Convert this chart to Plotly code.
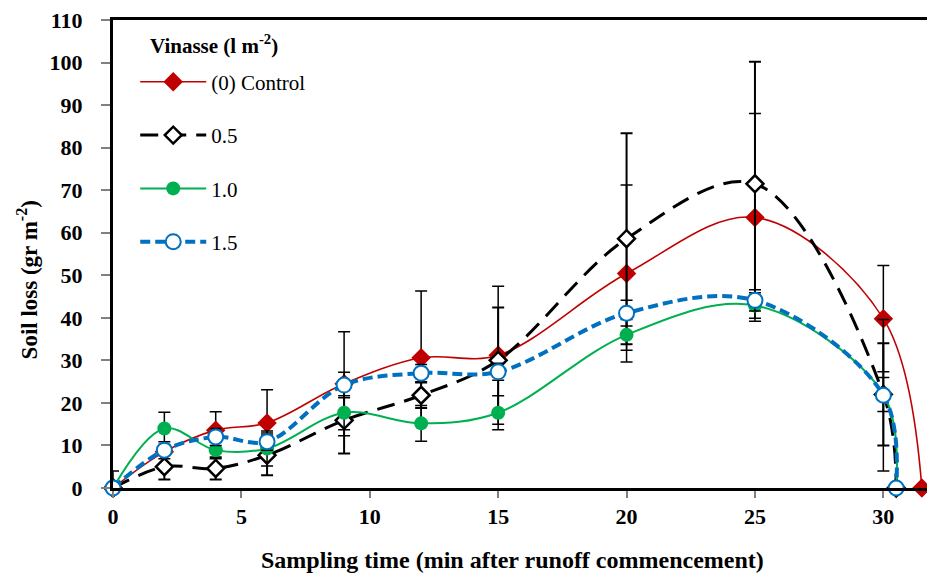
import plotly.graph_objects as go

# ---- data ----
t_main = [0, 2, 4, 6, 9, 12, 15, 20, 25, 30, 30.5]
t_ctrl = [0, 2, 4, 6, 9, 12, 15, 20, 25, 30, 31.5]

control = [0, 8.5, 13.6, 15.3, 24.5, 30.6, 31.2, 50.4, 63.6, 39.8, 0]
control_err = [4, 0, 4.3, 7.8, 12.2, 15.7, 16.2, 20.8, 24.4, 12.5, 0]
control_err_minus = [0, 0, 4.3, 7.8, 12.2, 15.7, 16.2, 20.8, 24.4, 12.5, 0]

v05 = [0, 5.0, 4.6, 7.7, 15.9, 21.8, 30.0, 58.6, 71.5, 22.0, 0]
v05_err = [0, 3.0, 2.6, 4.7, 7.8, 3.0, 12.4, 24.8, 28.7, 12.0, 0]

v10 = [0, 14.0, 8.9, 9.3, 17.7, 15.2, 17.7, 36.0, 42.9, 22.0, 0]
v10_err = [0, 3.8, 2.0, 4.1, 4.0, 4.2, 4.0, 3.6, 3.0, 4.0, 0]

v15 = [0, 8.9, 12.0, 10.9, 24.2, 27.0, 27.3, 41.1, 44.1, 21.8, 0]
v15_err = [0, 2.0, 2.0, 2.0, 3.0, 2.0, 2.0, 3.0, 2.5, 17.8, 0]

names = ["(0) Control", "0.5", "1.0", "1.5"]
legend_title = "<b>Vinasse (l m<sup>-2</sup>)</b>"
y_ticks = list(range(0, 111, 10))
x_ticks = [0, 5, 10, 15, 20, 25, 30]

RED, BLACK, GREEN, BLUE = "#C00000", "#000000", "#00B050", "#0070C0"
SERIF = "Liberation Serif, Times New Roman, serif"

fig = go.Figure()


def err(arr, minus=None, thick=1.5):
    d = dict(type="data", array=arr, visible=True, color="black",
             thickness=thick, width=6)
    if minus is not None:
        d["symmetric"] = False
        d["arrayminus"] = minus
    return d


fig.add_trace(go.Scatter(
    x=t_ctrl, y=control, name=names[0], legendgroup="a",
    mode="lines+markers", cliponaxis=False,
    line=dict(color=RED, width=1.6, shape="spline", smoothing=1.0),
    marker=dict(symbol="diamond", size=15, color=RED),
    error_y=err(control_err, control_err_minus),
))
fig.add_trace(go.Scatter(
    x=t_main, y=v05, name=names[1], legendgroup="b",
    mode="lines+markers", cliponaxis=False,
    line=dict(color=BLACK, width=3, dash="18px,10px", shape="spline", smoothing=1.0),
    marker=dict(symbol="diamond", size=13, color="white",
                line=dict(color=BLACK, width=2.5)),
    error_y=err(v05_err, thick=2),
))
fig.add_trace(go.Scatter(
    x=t_main, y=v10, name=names[2], legendgroup="c",
    mode="lines+markers", cliponaxis=False,
    line=dict(color=GREEN, width=2, shape="spline", smoothing=1.0),
    marker=dict(symbol="circle", size=14, color=GREEN),
    error_y=err(v10_err),
))
fig.add_trace(go.Scatter(
    x=t_main, y=v15, name=names[3], legendgroup="d",
    mode="lines+markers", cliponaxis=False,
    line=dict(color=BLUE, width=4, dash="10px,5px", shape="spline", smoothing=1.0),
    marker=dict(symbol="circle", size=15, color="white",
                line=dict(color=BLUE, width=2)),
    error_y=err(v15_err),
))

fig.update_layout(
    width=927, height=581,
    margin=dict(l=113, r=0, t=20, b=93),
    paper_bgcolor="white", plot_bgcolor="white",
    font=dict(family=SERIF, color="black", size=21),
    showlegend=True,
    legend=dict(
        x=0.0273, y=0.911, xanchor="left", yanchor="top",
        bgcolor="rgba(0,0,0,0)",
        font=dict(family=SERIF, size=21, color="black"),
        tracegroupgap=23, traceorder="grouped", itemwidth=66,
    ),
    xaxis=dict(
        range=[0, 31.7], tickvals=x_ticks, ticktext=[str(v) for v in x_ticks],
        showgrid=False, zeroline=False,
        showline=True, linecolor="black", linewidth=3, mirror=True,
        ticks="outside", ticklen=7, tickcolor="#808080", tickwidth=1.5,
        tickfont=dict(family=SERIF, size=22, color="black", weight="bold"),
        ticklabelstandoff=0,
    ),
    yaxis=dict(
        range=[0, 110], tickvals=y_ticks, ticktext=[str(v) for v in y_ticks],
        showgrid=False, zeroline=False,
        showline=True, linecolor="black", linewidth=3,
        ticks="outside", ticklen=9, tickcolor="#808080", tickwidth=1.5,
        tickfont=dict(family=SERIF, size=22, color="black", weight="bold"),
        ticklabelstandoff=14,
    ),
    annotations=[
        dict(text=legend_title,
             xref="paper", yref="paper", x=0.0432, y=0.9466,
             xanchor="left", yanchor="middle", showarrow=False,
             font=dict(family=SERIF, size=21, color="black")),
        dict(text="<b>Sampling time (min after runoff commencement)</b>",
             xref="paper", yref="paper", x=0.4903, y=-0.1538,
             xanchor="center", yanchor="middle", showarrow=False,
             font=dict(family=SERIF, size=24, color="black")),
        dict(text="<b>Soil loss (gr m<sup>-2</sup>)</b>",
             xref="paper", yref="paper", x=-0.1054, y=0.444,
             xanchor="center", yanchor="middle", showarrow=False, textangle=-90,
             font=dict(family=SERIF, size=23, color="black")),
    ],
)

fig.write_html(
    "out.html",
    config={"displayModeBar": False},
    post_script="document.body.style.margin='0';document.body.style.overflow='hidden';",
)
